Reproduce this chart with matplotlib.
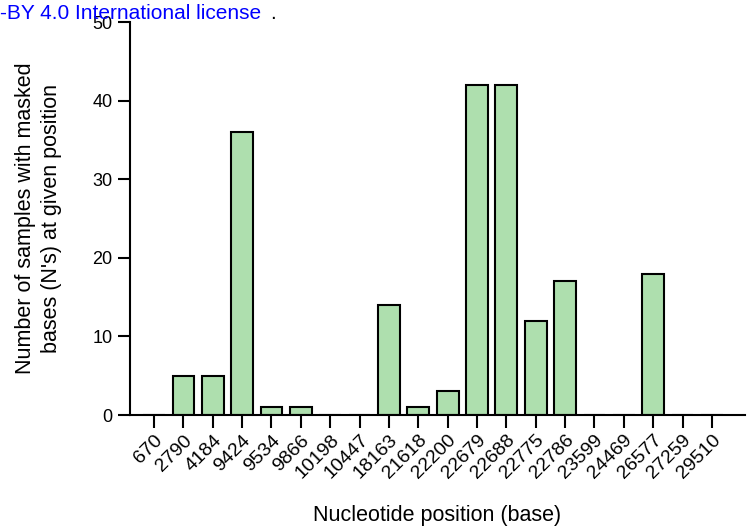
import matplotlib
matplotlib.use("Agg")
import matplotlib.pyplot as plt

plt.rcParams['font.family'] = ['Liberation Sans', 'DejaVu Sans']

positions = ["670", "2790", "4184", "9424", "9534", "9866", "10198", "10447",
             "18163", "21618", "22200", "22679", "22688", "22775", "22786",
             "23599", "24469", "26577", "27259", "29510"]
counts = [0, 5, 5, 36, 1, 1, 0, 0, 14, 1, 3, 42, 42, 12, 17, 0, 0, 18, 0, 0]

fig = plt.figure(figsize=(7.47, 5.29), dpi=100)
ax = fig.add_axes([0.174, 0.2155, 0.823, 0.7425])

x = list(range(len(positions)))
ax.bar(x, counts, width=0.74, color="#aedfae", edgecolor="black", linewidth=1.5)

ax.set_xlim(-0.82, 20.12)
ax.set_ylim(0, 50)
ax.set_yticks([0, 10, 20, 30, 40, 50])
ax.set_xticks(x)
ax.set_xticklabels(positions, rotation=45, ha="right", rotation_mode="anchor")

for s in ["top", "right"]:
    ax.spines[s].set_visible(False)
for s in ["left", "bottom"]:
    ax.spines[s].set_linewidth(1.5)
ax.tick_params(axis="both", width=1.5, length=9)
ax.tick_params(axis="y", labelsize=13)
ax.tick_params(axis="x", labelsize=14, pad=3)

ax.set_xlabel("Nucleotide position (base)", fontsize=15.5, labelpad=16)
ax.set_ylabel("Number of samples with masked\nbases (N's) at given position",
              fontsize=15.5, labelpad=22, linespacing=1.3)

# preprint watermark cut at top of page
fig.text(0.0, 0.975, "-BY 4.0 International license", color="blue",
         fontsize=15, va="center", ha="left")
fig.text(0.362, 0.975, ".", color="black", fontsize=15, va="center", ha="left")

fig.savefig("out.png", dpi=100)
